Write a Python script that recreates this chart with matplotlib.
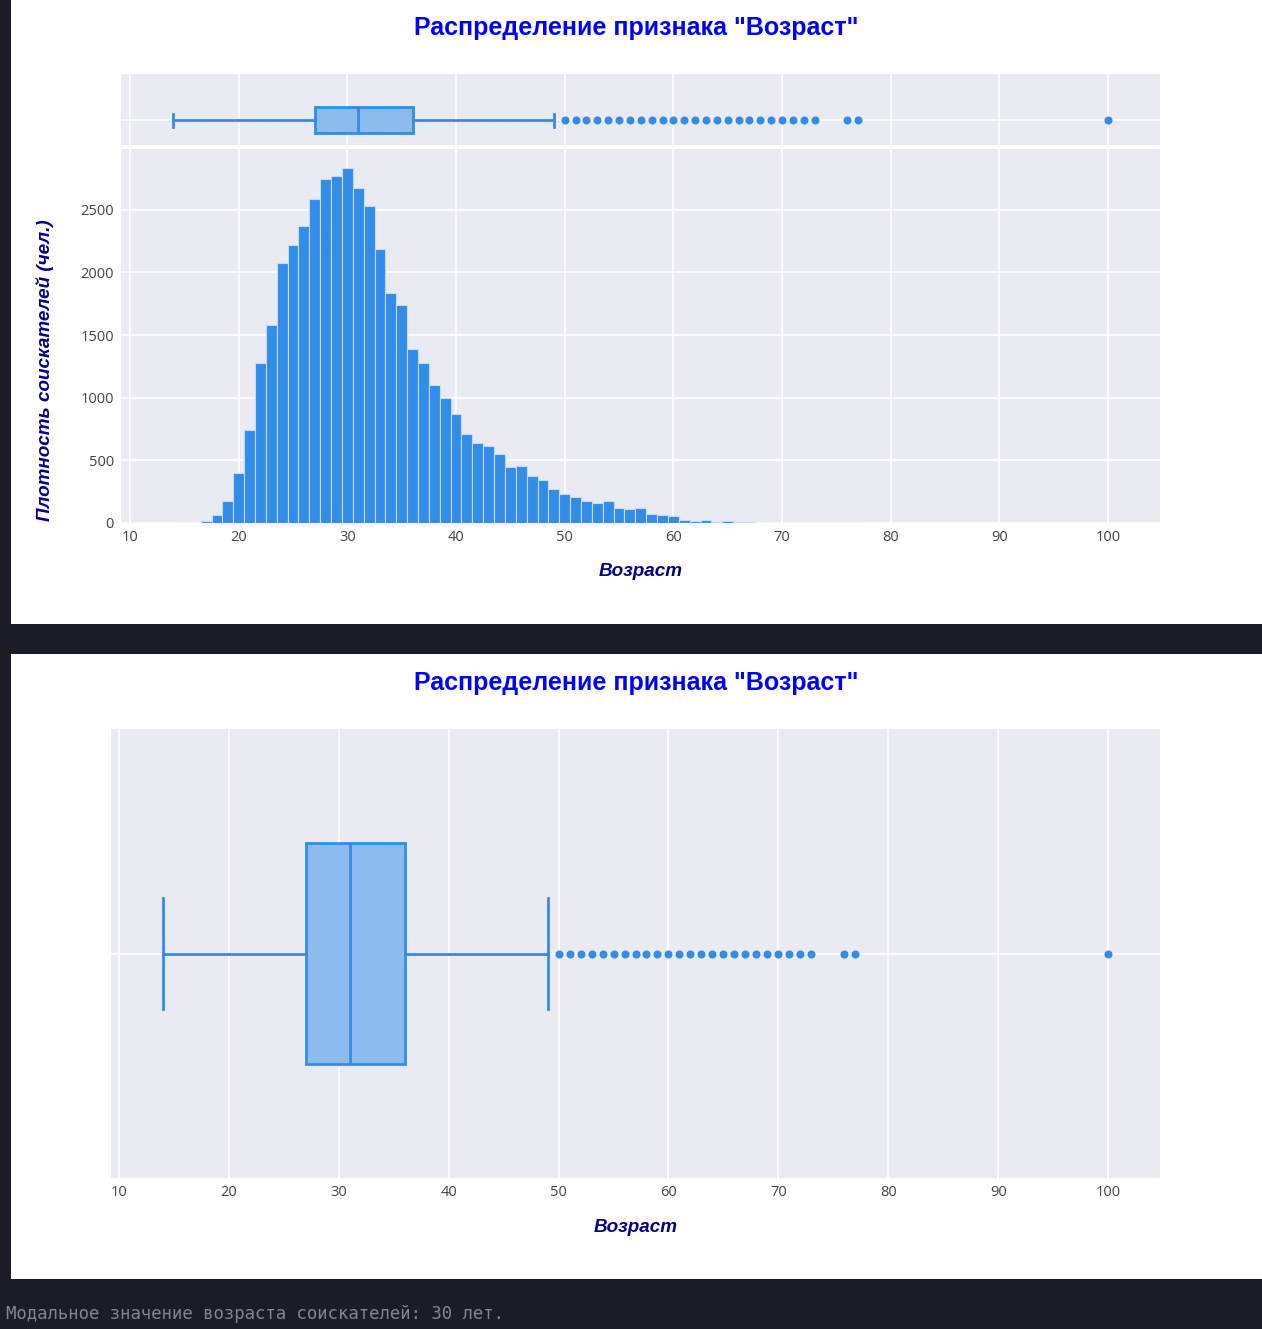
import matplotlib
matplotlib.use("Agg")
import matplotlib.pyplot as plt
from matplotlib.patches import Rectangle

# ---- data ----
ages = list(range(14, 78)) + [100]
counts = [2, 2, 2, 13, 61, 173, 399, 745, 1278, 1579, 2076, 2217, 2374, 2582,
          2745, 2766, 2835, 2675, 2534, 2186, 1837, 1738, 1387, 1278, 1105, 998,
          872, 713, 641, 612, 553, 444, 452, 372, 340, 271, 234, 205, 173, 162,
          173, 122, 112, 122, 74, 64, 53, 24, 13, 21, 5, 13, 5, 5, 2, 2, 2, 1,
          1, 1, 0, 0, 1, 1, 1]
box_q1, box_median, box_q3 = 27, 31, 36
box_whislo, box_whishi = 14, 49
outliers = list(range(50, 74)) + [76, 77, 100]
x_ticks = [10, 20, 30, 40, 50, 60, 70, 80, 90, 100]
y_ticks = [0, 500, 1000, 1500, 2000, 2500]
title_text = 'Распределение признака "Возраст"'
x_label = "Возраст"
y_label = "Плотность соискателей (чел.)"
footer = "Модальное значение возраста соискателей: 30 лет."

# ---- style ----
W, H = 1262, 1329
DARK = "#1c1c27"
BG = "#eaeaf2"
BLUE = "#338ce8"
FILL = "#8ebbee"
TICK = "#444444"
TICKSIZE = 10.5

fig = plt.figure(figsize=(W / 100, H / 100), dpi=100, facecolor=DARK)

def fr(x0, y0, x1, y1):
    return [x0 / W, 1 - y1 / H, (x1 - x0) / W, (y1 - y0) / H]

# white panels
for (x0, y0, x1, y1) in [(11, 0, 1262, 624), (11, 654, 1262, 1279)]:
    fig.patches.append(Rectangle((x0 / W, 1 - y1 / H), (x1 - x0) / W, (y1 - y0) / H,
                                 transform=fig.transFigure, facecolor="white",
                                 edgecolor="none", zorder=-5))

def style_ax(ax):
    ax.set_zorder(2)
    ax.set_facecolor(BG)
    for s in ax.spines.values():
        s.set_visible(False)
    ax.tick_params(length=0, colors=TICK, labelsize=TICKSIZE)
    ax.grid(True, color="white", linewidth=1.2)
    ax.set_axisbelow(True)

def draw_box(ax, width):
    stats = [dict(med=box_median, q1=box_q1, q3=box_q3, whislo=box_whislo,
                  whishi=box_whishi, fliers=outliers)]
    ax.bxp(stats, positions=[0], widths=width, capwidths=width / 2,
           orientation="horizontal", showfliers=True, patch_artist=True,
           boxprops=dict(facecolor=FILL, edgecolor=BLUE, linewidth=2),
           medianprops=dict(color=BLUE, linewidth=2),
           whiskerprops=dict(color=BLUE, linewidth=2),
           capprops=dict(color=BLUE, linewidth=2),
           flierprops=dict(marker="o", markerfacecolor=BLUE, markeredgecolor="none",
                           markersize=5.8, linestyle="none"))

xlim_top = (9.17, 104.78)

# ---- top box ----
axb = fig.add_axes(fr(121, 74, 1160, 145))
style_ax(axb)
draw_box(axb, 0.36)
axb.set_xlim(*xlim_top)
axb.set_ylim(-0.35, 0.65)
axb.set_xticks(x_ticks)
axb.set_yticks([0])
axb.set_xticklabels([])
axb.set_yticklabels([])

# ---- histogram ----
axh = fig.add_axes(fr(121, 149, 1160, 523))
style_ax(axh)
axh.bar(ages, counts, width=1.0, color=BLUE, edgecolor="#c4dcf6", linewidth=0.8)
axh.set_xlim(*xlim_top)
axh.set_ylim(0, 2985)
axh.set_xticks(x_ticks)
axh.set_yticks(y_ticks)
axh.set_xticklabels([str(t) for t in x_ticks], fontfamily="Open Sans", fontsize=TICKSIZE, color=TICK)
axh.set_yticklabels([str(t) for t in y_ticks], fontfamily="Open Sans", fontsize=TICKSIZE, color=TICK)
axh.tick_params(axis="x", pad=5)
axh.tick_params(axis="y", pad=5)

# ---- bottom box ----
axb2 = fig.add_axes(fr(111, 729, 1160, 1178))
style_ax(axb2)
draw_box(axb2, 0.492)
axb2.set_xlim(9.27, 104.73)
axb2.set_ylim(-0.5, 0.5)
axb2.set_xticks(x_ticks)
axb2.set_yticks([0])
axb2.set_yticklabels([])
axb2.set_xticklabels([str(t) for t in x_ticks], fontfamily="Open Sans", fontsize=TICKSIZE, color=TICK)
axb2.tick_params(axis="x", pad=5)

# ---- texts ----
tfont = dict(family=["Liberation Sans", "DejaVu Sans"], weight="bold")
fig.text(636 / W, 1 - 28 / H, title_text, ha="center", va="center", color="#0000ff",
         fontsize=18, **tfont)
fig.text(636 / W, 1 - 683 / H, title_text, ha="center", va="center", color="#0000ff",
         fontsize=18, **tfont)
lfont = dict(family=["Liberation Sans", "DejaVu Sans"], weight="bold", style="italic")
fig.text(641 / W, 1 - 572 / H, x_label, ha="center", va="center", color="#00008b",
         fontsize=13.6, **lfont)
fig.text(636 / W, 1 - 1227 / H, x_label, ha="center", va="center", color="#00008b",
         fontsize=13.6, **lfont)
fig.text(45 / W, 1 - 370 / H, y_label, ha="center", va="center", color="#00008b",
         fontsize=13.6, rotation=90, **lfont)
fig.text(6 / W, 1 - 1314 / H, footer, ha="left", va="center", color="#84849a",
         fontsize=12.4, family=["DejaVu Sans Mono"])

fig.savefig("out.png", dpi=100, facecolor=DARK)
